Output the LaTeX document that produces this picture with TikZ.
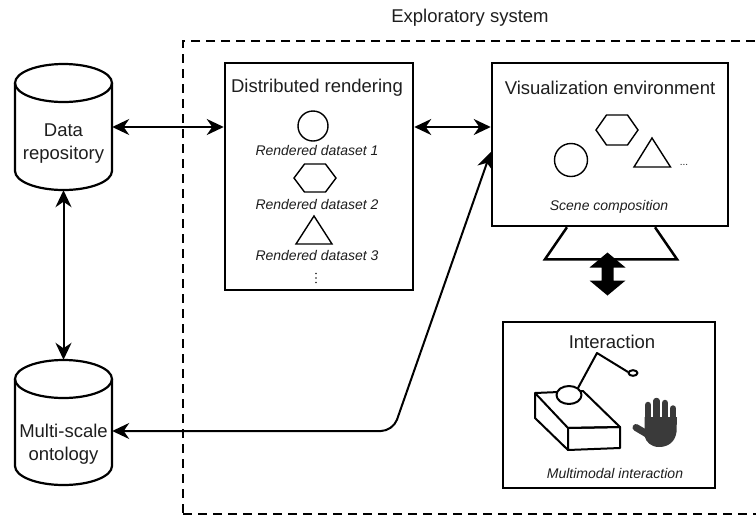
\documentclass[tikz,border=0pt]{standalone}
\usepackage{fontspec}
\setmainfont{Liberation Sans}
\usetikzlibrary{arrows.meta,calc}
\definecolor{ink}{HTML}{1E1E1E}
\definecolor{handgray}{HTML}{3A3A3A}

\begin{document}
\begin{tikzpicture}[x=1pt,y=-1pt,
  box/.style={draw=black, line width=2.5pt, inner sep=0pt, fill=white},
  ghost/.style={inner sep=0pt},
  drum/.style={draw=black, line width=2.2pt},
  shp/.style={draw=black, line width=1.4pt},
  big/.style={font=\fontsize{18.5}{23}\selectfont, text=ink, align=center, inner sep=0pt},
  caption/.style={font=\fontsize{14}{16}\selectfont\itshape, text=ink, inner sep=0pt},
  link/.style={line width=2pt, {Stealth[length=17pt,width=16pt,inset=5.5pt]}-{Stealth[length=17pt,width=16pt,inset=5.5pt]}},
  frame/.style={draw=black, line width=2.6pt, dash pattern=on 9pt off 6pt, inner sep=0pt},
]
\useasboundingbox (0,0) rectangle (756,515);

% system frame (runs past the right and bottom edges)
\node[frame, minimum width=597pt, minimum height=473pt] (sys) at (481.5,277.5) {};
\node[big] (systitle) at (470,18) {Exploratory system};

% storage drums
\node[ghost, minimum width=97pt, minimum height=126pt] (repo) at (63.5,127) {};
\node[ghost, minimum width=97pt, minimum height=125pt] (ont) at (63.5,422.5) {};

\draw[drum] (63.5,83) ellipse [x radius=48.5pt, y radius=19pt];
\draw[drum] (15,83) -- (15,171) .. controls (15,181.5) and (36.7,190) .. (63.5,190)
  .. controls (90.3,190) and (112,181.5) .. (112,171) -- (112,83);
\node[big] (repotxt) at (63.5,143.5) {Data\\repository};

\draw[drum] (63.5,379) ellipse [x radius=48.5pt, y radius=19pt];
\draw[drum] (15,379) -- (15,466) .. controls (15,476.5) and (36.7,485) .. (63.5,485)
  .. controls (90.3,485) and (112,476.5) .. (112,466) -- (112,379);
\node[big] (onttxt) at (63.5,444) {Multi-scale\\ontology};

% distributed rendering
\node[box, minimum width=188pt, minimum height=227pt] (dr) at (319,176.5) {};
\node[big] (drtitle) at (317,88) {Distributed rendering};
\draw[shp] (313,126) circle [radius=15pt];
\node[caption] (ds1) at (317,150) {Rendered dataset 1};
\draw[shp] (294,178) -- (304.5,164) -- (325.5,164) -- (336,178) -- (325.5,192) -- (304.5,192) -- cycle;
\node[caption] (ds2) at (317,204) {Rendered dataset 2};
\draw[shp] (314,216) -- (332,244) -- (296,244) -- cycle;
\node[caption] (ds3) at (317,255) {Rendered dataset 3};
\coordinate (more1) at (316,278);
\foreach \d in {-4.5,0,4.5} \fill[ink] ($(more1)+(0,\d)$) circle [radius=0.9pt];

% visualization environment
\node[box, minimum width=236pt, minimum height=163pt] (ve) at (610,144.5) {};
\draw[line width=2.5pt] ($(ve.south)+(-43,0)$) -- ++(-22,32) -- ++(132,0) -- ++(-22,-32);
\node[big] (vetitle) at (610,88) {Visualization environment};
\draw[shp] (596,130) -- (606.5,115) -- (627.5,115) -- (638,130) -- (627.5,145) -- (606.5,145) -- cycle;
\draw[shp] (571,160) circle [radius=16.5pt];
\draw[shp] (652,138) -- (670.5,167) -- (634,167) -- cycle;
\node[inner sep=0pt, font=\fontsize{10}{10}\selectfont, text=ink] (more2) at (684,165) {...};
\node[caption] (scene) at (609,207) {Scene composition};

% interaction
\node[box, minimum width=212pt, minimum height=166pt] (inter) at (609,405) {};
\node[big] (intertitle) at (612,342) {Interaction};
\begin{scope}[line width=2pt, line join=round]
  \draw (535,393) -- (583,391) -- (620,427) -- (568,428) -- cycle;
  \draw (568,428) -- (620,427) -- (620,448) -- (568,450) -- cycle;
  \draw (535,393) -- (535,418) -- (568,450);
  \draw (578,388) -- (597,353) -- (628,372);
  \draw[fill=white] (569,395) ellipse [x radius=12.5pt, y radius=9pt];
  \draw[fill=white] (633,373) ellipse [x radius=4.5pt, y radius=2.8pt];
\end{scope}
\begin{scope}[handgray]
  \fill (644.5,417) -- (677,417) -- (676.5,432) .. controls (675,443) and (667,447) .. (659,447)
    .. controls (651,447) and (646,442) .. (644.5,436) -- cycle;
  \draw[line width=6.5pt, line cap=round] (648,420) -- (648,405);
  \draw[line width=6.5pt, line cap=round] (656.5,420) -- (656.5,401);
  \draw[line width=6.5pt, line cap=round] (665,420) -- (665,403);
  \draw[line width=6.5pt, line cap=round] (673,422) -- (673,408.5);
  \draw[line width=7pt, line cap=round] (652,437) -- (636,427.5);
\end{scope}
\node[caption] (multi) at (615,473) {Multimodal interaction};

% connectors
\draw[link] (repo.east) -- (repo.east -| dr.west);
\draw[link] (dr.east |- repo.east) -- (ve.west |- repo.east);
\draw[link] (repo.south) -- (ont.north);
\coordinate (bend) at (393,431);
\draw[link, rounded corners=12pt] ($(ont.east)+(0,8.5)$) -- (bend) -- ($(ve.west)+(0,7.5)$);

% two-way block arrow between the display and the interaction panel
\coordinate (fat) at ($(ve.south)!0.5!(inter.north)+(-2,0)$);
\fill ($(fat)+(0,-21.5)$) -- ++(18,15) -- ++(-12,0) -- ++(0,13) -- ++(12,0) -- ++(-18,15)
  -- ++(-18,-15) -- ++(12,0) -- ++(0,-13) -- ++(-12,0) -- cycle;
\end{tikzpicture}
\end{document}
